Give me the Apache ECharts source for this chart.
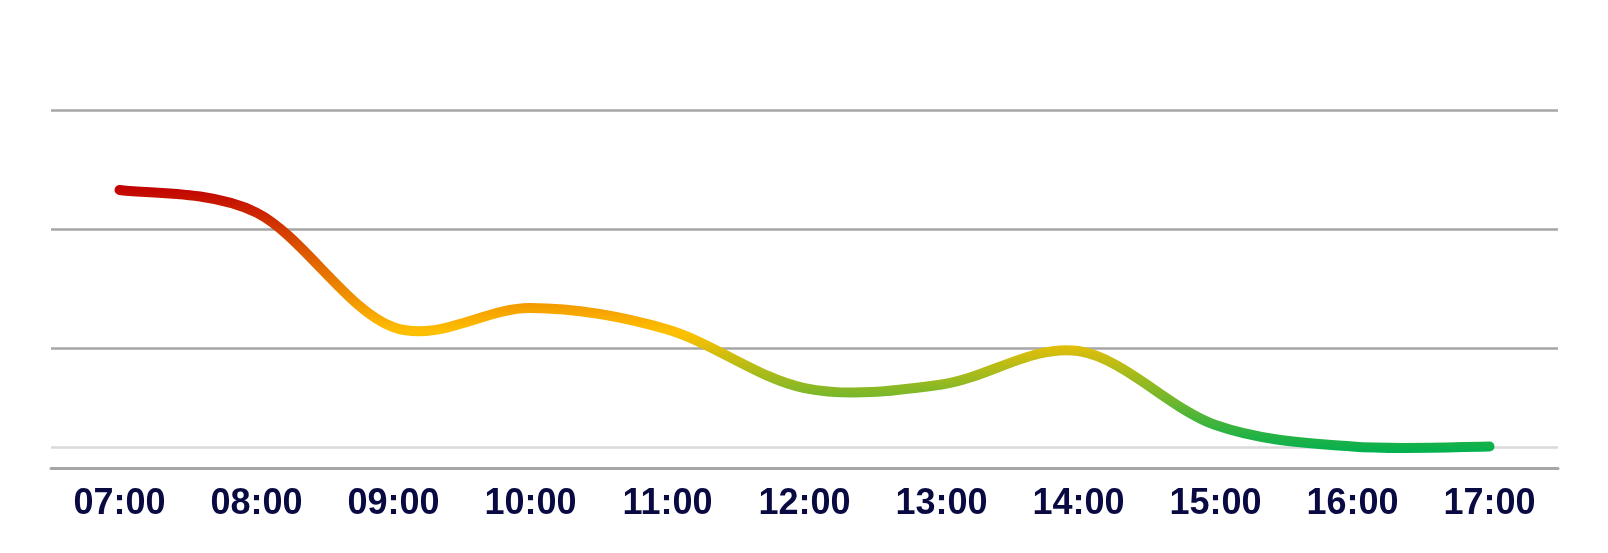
<!DOCTYPE html>
<html>
<head>
<meta charset="utf-8">
<script src="https://cdn.jsdelivr.net/npm/echarts@6/dist/echarts.min.js"></script>
<style>
html,body{margin:0;padding:0;background:#fff;}
#c{width:1608px;height:553px;}
</style>
</head>
<body>
<div id="c"></div>
<script>
const categories = ['07:00','08:00','09:00','10:00','11:00','12:00','13:00','14:00','15:00','16:00','17:00'];
const values = [233, 214, 118, 134, 116, 67, 70, 98, 36, 18, 18];
const referenceLineValue = 17;
const yTicks = {min: 0, max: 300, interval: 100};

const lineGradient = new echarts.graphic.LinearGradient(0, 0, 0, 1, [
  {offset: 0, color: '#c00000'},
  {offset: 0.55, color: '#ffc000'},
  {offset: 1, color: '#00b050'}
]);

function renderSmoothLine(params, api) {
  if (params.dataIndex !== 0) return null;
  const pts = values.map(function (v, i) { return api.coord([i, v]); });
  const n = pts.length;
  let d = 'M' + pts[0][0] + ' ' + pts[0][1];
  for (let i = 0; i < n - 1; i++) {
    const p0 = pts[Math.max(i - 1, 0)];
    const p1 = pts[i];
    const p2 = pts[i + 1];
    const p3 = pts[Math.min(i + 2, n - 1)];
    const c1x = p1[0] + (p2[0] - p0[0]) / 6;
    const c1y = p1[1] + (p2[1] - p0[1]) / 6;
    const c2x = p2[0] - (p3[0] - p1[0]) / 6;
    const c2y = p2[1] - (p3[1] - p1[1]) / 6;
    d += ' C' + c1x + ' ' + c1y + ' ' + c2x + ' ' + c2y + ' ' + p2[0] + ' ' + p2[1];
  }
  return {
    type: 'path',
    shape: {pathData: d},
    style: {
      fill: 'none',
      stroke: lineGradient,
      lineWidth: 10,
      lineCap: 'round',
      lineJoin: 'round'
    },
    z2: 10
  };
}

const chart = echarts.init(document.getElementById('c'), null, {renderer: 'canvas'});
chart.setOption({
  animation: false,
  backgroundColor: '#ffffff',
  grid: {left: 51, right: 50, top: 110, bottom: 85, containLabel: false},
  xAxis: {
    type: 'category',
    data: categories,
    boundaryGap: true,
    axisLine: {show: true, lineStyle: {color: '#a6a6a6', width: 3}},
    axisTick: {show: false},
    axisLabel: {
      color: '#0a0a42',
      fontFamily: 'Liberation Sans, Arial, sans-serif',
      fontWeight: 'bold',
      fontSize: 36,
      margin: 18,
      interval: 0
    },
    splitLine: {show: false}
  },
  yAxis: {
    type: 'value',
    min: yTicks.min,
    max: yTicks.max,
    interval: yTicks.interval,
    axisLine: {show: false},
    axisTick: {show: false},
    axisLabel: {show: false},
    splitLine: {show: true, lineStyle: {color: '#a6a6a6', width: 2.5}}
  },
  series: [
    {
      type: 'line',
      data: [],
      symbol: 'none',
      silent: true,
      markLine: {
        silent: true,
        symbol: 'none',
        z: 1,
        label: {show: false},
        lineStyle: {color: '#d9d9d9', width: 2.5, type: 'solid'},
        data: [{yAxis: referenceLineValue}]
      },
      z: 1
    },
    {
      type: 'custom',
      coordinateSystem: 'cartesian2d',
      data: values.map(function (v, i) { return [i, v]; }),
      encode: {x: 0, y: 1},
      renderItem: renderSmoothLine,
      silent: true,
      z: 10
    }
  ]
});
</script>
</body>
</html>
